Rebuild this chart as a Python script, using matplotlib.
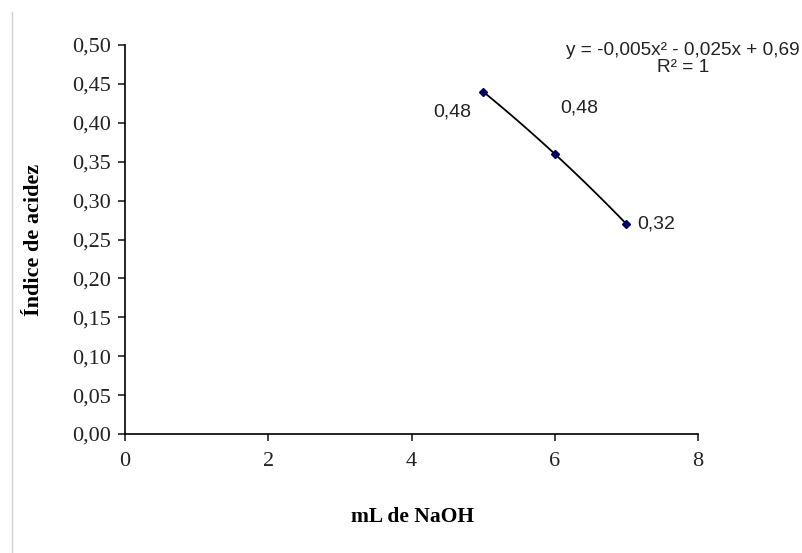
import matplotlib
matplotlib.use("Agg")
import matplotlib.pyplot as plt
from matplotlib.lines import Line2D
import numpy as np

x_vals = [5, 6, 7]
y_vals = [0.44, 0.36, 0.27]
point_labels = ["0,48", "0,48", "0,32"]
x_ticks = [0, 2, 4, 6, 8]
y_ticks = [0.00, 0.05, 0.10, 0.15, 0.20, 0.25, 0.30, 0.35, 0.40, 0.45, 0.50]
equation = "y = -0,005x² - 0,025x + 0,69\nR² = 1"
x_label = "mL de NaOH"
y_label = "Índice de acidez"

fig = plt.figure(figsize=(8.02, 5.53), dpi=100)
ax = fig.add_axes([125/802, 1-434/553, (698-125)/802, (434-45)/553])

# trendline (polynomial) through points
coef = np.polyfit(x_vals, y_vals, 2)
xs = np.linspace(min(x_vals), max(x_vals), 100)
ax.plot(xs, np.polyval(coef, xs), color="black", lw=1.3, zorder=2)
ax.plot(x_vals, y_vals, linestyle="none", marker="D", markersize=4.5,
        color="#000066", zorder=3)

ax.set_xlim(0, 8)
ax.set_ylim(0, 0.5)
ax.set_xticks(x_ticks)
ax.set_xticklabels([str(t) for t in x_ticks])
ax.set_yticks(y_ticks)
ax.set_yticklabels([f"{t:.2f}".replace(".", ",") for t in y_ticks])
for s in ["top", "right"]:
    ax.spines[s].set_visible(False)
for s in ["left", "bottom"]:
    ax.spines[s].set_linewidth(1.2)
ax.tick_params(axis="both", direction="out", length=5, width=1.2,
               labelsize=16, colors="#222222")
ax.tick_params(axis="y", pad=5)
ax.tick_params(axis="x", pad=8)
for lab in ax.get_xticklabels() + ax.get_yticklabels():
    lab.set_fontfamily("Liberation Serif")
    lab.set_color("#222222")

fig.text(413/802, 1-517/553, x_label, ha="center", va="center",
         fontsize=15.5, fontweight="bold", family="Liberation Serif")
fig.text(34/802, 1-240/553, y_label, ha="center", va="center", rotation=90,
         fontsize=16, fontweight="bold", family="Liberation Serif")

# data labels (offsets in points)
offsets = [(-36, -14.5), (4, 33), (8, 0)]
for xv, yv, lab, off in zip(x_vals, y_vals, point_labels, offsets):
    ax.annotate(lab, (xv, yv), xytext=off, textcoords="offset points",
                ha="left", va="center", fontsize=14, family="Liberation Sans",
                color="#222222")

fig.text(683/802, 1-59/553, equation, ha="center", va="center",
         fontsize=13.7, family="Liberation Sans", color="#222222",
         linespacing=1.0)

# light border line at left edge
fig.add_artist(Line2D([12/802, 12/802], [0, 1-12/553], transform=fig.transFigure,
                      color="#d0d0d0", lw=1))

fig.savefig("out.png", dpi=100)
